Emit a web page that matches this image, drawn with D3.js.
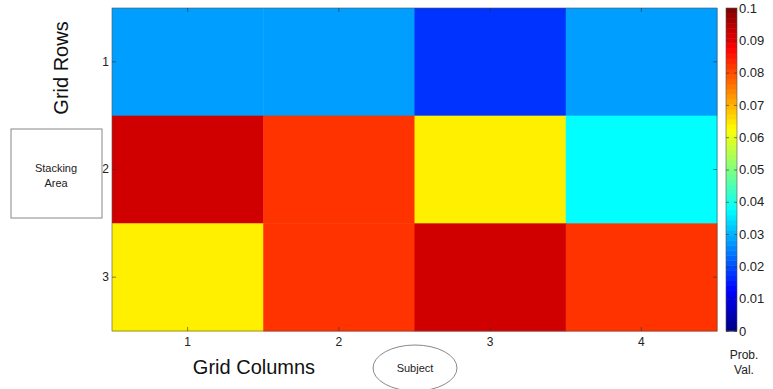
<!DOCTYPE html>
<html><head><meta charset="utf-8">
<script src="https://cdn.jsdelivr.net/npm/d3@7"></script>
<style>body{margin:0;background:#fff}svg{display:block;font-family:"Liberation Sans",Arial,sans-serif}</style>
</head><body>
<svg id="c" width="773" height="389"></svg>
<script>
const columns = [1, 2, 3, 4];
const rows = [1, 2, 3];
const row1 = [0.028, 0.028, 0.0175, 0.028];
const row2 = [0.092, 0.0825, 0.064, 0.0375];
const row3 = [0.064, 0.0825, 0.092, 0.0825];
const colorTicks = [0, 0.01, 0.02, 0.03, 0.04, 0.05, 0.06, 0.07, 0.08, 0.09, 0.1];

const values = [row1, row2, row3];
const cells = [];
values.forEach((r, i) => r.forEach((v, j) => cells.push({row: rows[i], col: columns[j], v})));

function jet(t) {
  const c = x => Math.max(0, Math.min(1, x));
  const r = c(1.5 - Math.abs(4 * t - 3)), g = c(1.5 - Math.abs(4 * t - 2)), b = c(1.5 - Math.abs(4 * t - 1));
  return d3.rgb(r * 255, g * 255, b * 255).formatHex();
}
const color = d3.scaleSequential(jet).domain([0, 0.1]);

const svg = d3.select("#c");
const L = 112, R = 717, T = 8, B = 331;
const x = d3.scaleBand().domain(columns).range([L, R]);
const y = d3.scaleBand().domain(rows).range([T, B]);

// annotations (drawn first so tick labels stay visible)
svg.append("rect").attr("x", 11).attr("y", 129).attr("width", 91).attr("height", 89)
  .attr("fill", "#fff").attr("stroke", "#888").attr("stroke-width", 1);
svg.append("text").attr("x", 56).attr("y", 172).attr("text-anchor", "middle").attr("font-size", 11).attr("fill", "#222").text("Stacking");
svg.append("text").attr("x", 56).attr("y", 187).attr("text-anchor", "middle").attr("font-size", 11).attr("fill", "#222").text("Area");

svg.append("g").selectAll("rect").data(cells).join("rect")
  .attr("x", d => x(d.col)).attr("y", d => y(d.row))
  .attr("width", x.bandwidth() + 0.5).attr("height", y.bandwidth() + 0.5)
  .attr("fill", d => color(d.v));

svg.append("rect").attr("x", L).attr("y", T).attr("width", R - L).attr("height", B - T)
  .attr("fill", "none").attr("stroke", "#555").attr("stroke-width", 0.6);

const tk = 4;
const xa = svg.append("g").attr("transform", `translate(0,${B})`)
  .call(d3.axisBottom(x).tickSizeInner(-tk).tickSizeOuter(0).tickPadding(6));
xa.select(".domain").remove();
svg.append("g").attr("transform", `translate(0,${T})`)
  .call(d3.axisTop(x).tickSizeInner(-tk).tickSizeOuter(0).tickFormat(""))
  .select(".domain").remove();
const ya = svg.append("g").attr("transform", `translate(${L},0)`)
  .call(d3.axisLeft(y).tickSizeInner(-tk).tickSizeOuter(0).tickPadding(3));
ya.select(".domain").remove();
svg.append("g").attr("transform", `translate(${R},0)`)
  .call(d3.axisRight(y).tickSizeInner(-tk).tickSizeOuter(0).tickFormat(""))
  .select(".domain").remove();
svg.selectAll(".tick line").attr("stroke", "#333").attr("stroke-width", 0.6);
xa.selectAll("text").attr("font-size", 12).attr("fill", "#222");
ya.selectAll("text").attr("font-size", 12).attr("fill", "#222");

// colorbar
const cbx = 726, cbw = 11;
const cy = d3.scaleLinear().domain([0, 0.1]).range([B, T]);
const steps = d3.range(0, 64);
svg.append("g").selectAll("rect").data(steps).join("rect")
  .attr("x", cbx).attr("width", cbw)
  .attr("y", d => cy((d + 1) / 640)).attr("height", d => cy(d / 640) - cy((d + 1) / 640) + 0.5)
  .attr("fill", d => color((d + 0.5) / 640));
svg.append("rect").attr("x", cbx).attr("y", T).attr("width", cbw).attr("height", B - T)
  .attr("fill", "none").attr("stroke", "#555").attr("stroke-width", 0.6);
const ca = svg.append("g").attr("transform", `translate(${cbx + cbw},0)`)
  .call(d3.axisRight(cy).tickValues(colorTicks).tickFormat(d => d === 0 ? "0" : d3.format(".2~f")(d))
    .tickSizeInner(-3).tickSizeOuter(0).tickPadding(2));
ca.select(".domain").remove();
ca.selectAll("text").attr("font-size", 13).attr("fill", "#222");
ca.selectAll(".tick line").attr("stroke", "#333").attr("stroke-width", 0.6);
svg.append("g").attr("transform", `translate(${cbx},0)`)
  .call(d3.axisLeft(cy).tickValues(colorTicks).tickFormat("").tickSizeInner(-3).tickSizeOuter(0))
  .call(g => g.select(".domain").remove())
  .selectAll(".tick line").attr("stroke", "#333").attr("stroke-width", 0.6);

svg.append("text").attr("x", 744).attr("y", 359).attr("text-anchor", "middle").attr("font-size", 12).attr("fill", "#222").text("Prob.");
svg.append("text").attr("x", 744).attr("y", 374).attr("text-anchor", "middle").attr("font-size", 12).attr("fill", "#222").text("Val.");

svg.append("text").attr("x", 254).attr("y", 374).attr("text-anchor", "middle").attr("font-size", 20).attr("fill", "#111").text("Grid Columns");
svg.append("text").attr("transform", "translate(68,68) rotate(-90)").attr("text-anchor", "middle").attr("font-size", 20).attr("fill", "#111").text("Grid Rows");

svg.append("ellipse").attr("cx", 415).attr("cy", 368).attr("rx", 42).attr("ry", 23)
  .attr("fill", "#fff").attr("stroke", "#888").attr("stroke-width", 1);
svg.append("text").attr("x", 415).attr("y", 372).attr("text-anchor", "middle").attr("font-size", 11).attr("fill", "#222").text("Subject");
</script>
</body></html>
